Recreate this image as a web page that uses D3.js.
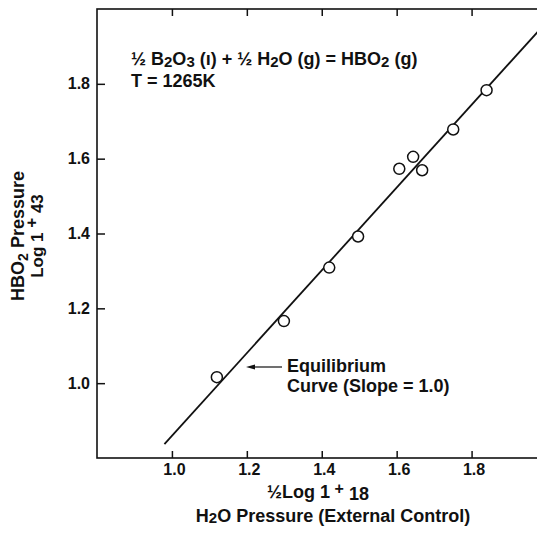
<!DOCTYPE html>
<html>
<head>
<meta charset="utf-8">
<script src="https://cdn.jsdelivr.net/npm/d3@7"></script>
<style>
  body { margin: 0; background: #fff; }
  svg { display: block; font-family: "Liberation Sans", Arial, sans-serif; font-weight: bold; }
</style>
</head>
<body>
<div id="chart"></div>
<script>
const h2oLog = [1.12, 1.299, 1.42, 1.497, 1.607, 1.644, 1.668, 1.751, 1.84];
const hbo2Log = [1.016, 1.166, 1.309, 1.392, 1.573, 1.605, 1.569, 1.678, 1.783];
// equilibrium line end points
const lineX = [0.98, 2.0];
const lineY = [0.837, 1.965];
const tickVals = [1.0, 1.2, 1.4, 1.6, 1.8];

const width = 537, height = 536;
const svg = d3.select("#chart").append("svg")
  .attr("width", width)
  .attr("height", height);

const x = d3.scaleLinear().domain([0.8, 2.0]).range([97, 546.5]);
const y = d3.scaleLinear().domain([0.8, 2.0]).range([458, 9]);

// frame
svg.append("rect")
  .attr("x", x(0.8)).attr("y", y(2.0))
  .attr("width", x(2.0) - x(0.8)).attr("height", y(0.8) - y(2.0))
  .attr("fill", "none").attr("stroke", "#111").attr("stroke-width", 1.6);

const fmt = d3.format(".1f");
const styleAxis = g => {
  g.select(".domain").remove();
  g.selectAll(".tick line").attr("stroke", "#111").attr("stroke-width", 1.5);
  g.selectAll(".tick text").attr("fill", "#111").attr("font-size", 16)
    .attr("font-family", "Liberation Sans, Arial, sans-serif").attr("font-weight", "bold");
};

svg.append("g").attr("transform", `translate(0,${y(0.8)})`)
  .call(d3.axisBottom(x).tickValues(tickVals).tickFormat(fmt).tickSizeInner(-7).tickSizeOuter(0).tickPadding(6))
  .call(styleAxis)
  .selectAll(".tick text").attr("dx", 2);
svg.append("g").attr("transform", `translate(0,${y(2.0)})`)
  .call(d3.axisTop(x).tickValues(tickVals).tickFormat("").tickSizeInner(-7).tickSizeOuter(0))
  .call(styleAxis);
svg.append("g").attr("transform", `translate(${x(0.8)},0)`)
  .call(d3.axisLeft(y).tickValues(tickVals).tickFormat(fmt).tickSizeInner(-8).tickSizeOuter(0).tickPadding(7))
  .call(styleAxis);
svg.append("g").attr("transform", `translate(${x(2.0)},0)`)
  .call(d3.axisRight(y).tickValues(tickVals).tickFormat("").tickSizeInner(-9).tickSizeOuter(0))
  .call(styleAxis);

// equilibrium line
svg.append("line")
  .attr("x1", x(lineX[0])).attr("y1", y(lineY[0]))
  .attr("x2", x(lineX[1])).attr("y2", y(lineY[1]))
  .attr("stroke", "#111").attr("stroke-width", 1.8);

// points
svg.append("g").selectAll("circle")
  .data(h2oLog)
  .join("circle")
  .attr("cx", d => x(d))
  .attr("cy", (d, i) => y(hbo2Log[i]))
  .attr("r", 5.5)
  .attr("fill", "#fff").attr("stroke", "#111").attr("stroke-width", 1.5);

// reaction text
const react = svg.append("text").attr("x", 131).attr("y", 65).attr("font-size", 18).attr("fill", "#111");
const parts = [["½ B", 0], ["2", 1], ["O", 0], ["3", 1], [" (", 0], ["ı", 0], [") + ½ H", 0], ["2", 1], ["O (g) = HBO", 0], ["2", 1], [" (g)", 0]];
parts.forEach((p, i) => {
  const prevSub = i > 0 && parts[i - 1][1];
  react.append("tspan").text(p[0])
    .attr("font-size", p[1] ? 15 : 18)
    .attr("dy", p[1] ? 2 : (prevSub ? -2 : 0));
});
svg.append("text").attr("x", 131).attr("y", 87).attr("font-size", 18).attr("fill", "#111")
  .text("T = 1265K");

// annotation with arrow
svg.append("line")
  .attr("x1", 282).attr("y1", 367).attr("x2", 250).attr("y2", 367)
  .attr("stroke", "#111").attr("stroke-width", 1.2);
svg.append("path").attr("d", "M246,367 L255,364.5 L255,369.5 z").attr("fill", "#111");
svg.append("text").attr("x", 287).attr("y", 372).attr("font-size", 18).attr("fill", "#111").text("Equilibrium");
svg.append("text").attr("x", 287).attr("y", 392).attr("font-size", 18).attr("fill", "#111").text("Curve (Slope = 1.0)");

// x axis title
const xt1 = svg.append("text").attr("x", 318).attr("y", 498).attr("text-anchor", "middle").attr("font-size", 18).attr("fill", "#111");
xt1.append("tspan").text("½Log 1");
xt1.append("tspan").text(" +").attr("font-size", 16).attr("dy", -4);
xt1.append("tspan").text(" 18").attr("dy", 6);
const xt2 = svg.append("text").attr("x", 333).attr("y", 522).attr("text-anchor", "middle").attr("font-size", 18).attr("fill", "#111");
xt2.append("tspan").text("H");
xt2.append("tspan").text("2").attr("font-size", 15).attr("dy", 1);
xt2.append("tspan").text("O Pressure (External Control)").attr("dy", -1);

// y axis title
const yt1 = svg.append("text").attr("transform", "translate(24,236) rotate(-90)").attr("text-anchor", "middle").attr("font-size", 18).attr("fill", "#111");
yt1.append("tspan").text("HBO");
yt1.append("tspan").text("2").attr("font-size", 14).attr("dy", 4);
yt1.append("tspan").text(" Pressure").attr("dy", -4);
const yt2 = svg.append("text").attr("transform", "translate(43,236) rotate(-90)").attr("text-anchor", "middle").attr("font-size", 17).attr("fill", "#111");
yt2.append("tspan").text("Log 1");
yt2.append("tspan").text(" +").attr("dy", -6);
yt2.append("tspan").text(" 43").attr("dy", 6);
</script>
</body>
</html>
